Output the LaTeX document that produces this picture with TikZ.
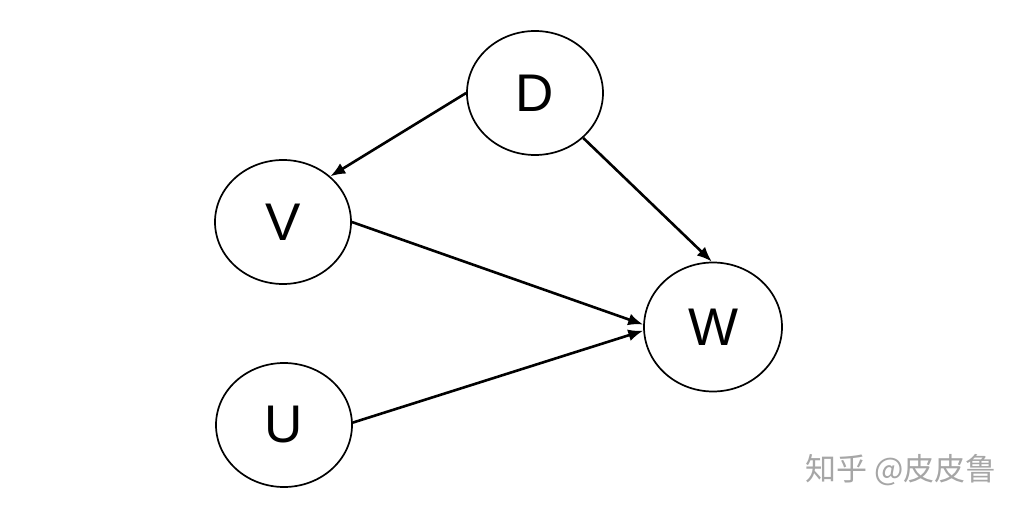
\documentclass[tikz,border=0pt]{standalone}
\usepackage{fontspec}
\setmainfont{Liberation Sans}
\newfontfamily\cjk{Noto Sans CJK SC}
\usetikzlibrary{shapes.geometric,arrows.meta}
\begin{document}
\begin{tikzpicture}[x=1pt,y=-1pt,
  vnode/.style={draw,ellipse,line width=1.7pt,minimum width=136pt,minimum height=124pt,inner sep=0pt,font=\fontsize{53}{53}\selectfont},
  edge/.style={line width=2.6pt,-{Latex[length=15pt,width=12pt]}}]
\useasboundingbox (0,0) rectangle (1024,518);
\fill[white] (0,0) rectangle (1024,518);
\node[vnode] (D) at (535,93) {D};
\node[vnode] (V) at (283,222) {V};
\node[vnode,minimum width=138pt,minimum height=129pt] (W) at (713,327) {W};
\node[vnode] (U) at (284,425) {U};
\draw[edge] (D.180) -- (V.44);
\draw[edge] (D.-43) -- (W.91);
\draw[edge] (V.0) -- (W.178);
\draw[edge] (U.2) -- (W.183);
\node[text=black!35,font=\cjk\fontsize{31}{31}\selectfont] (wm) at (901,470) {知乎 @皮皮鲁};
\end{tikzpicture}
\end{document}
